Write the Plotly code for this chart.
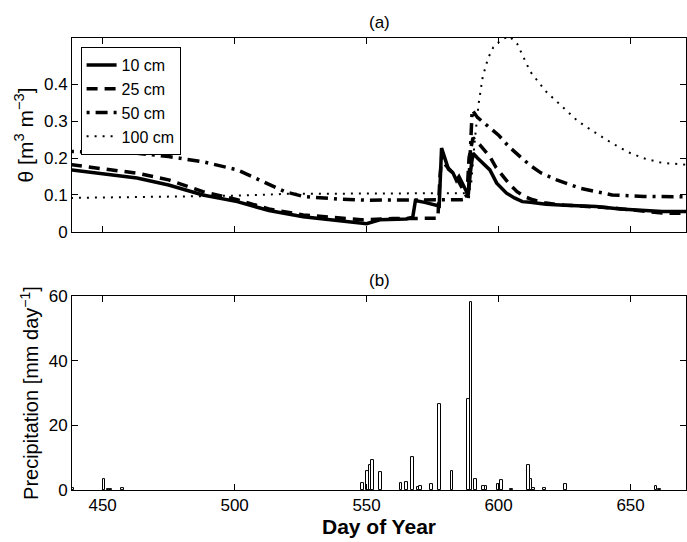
import plotly.graph_objects as go
from plotly.subplots import make_subplots

# soil moisture, day of year vs theta [m3 m-3]
days_10 = [438, 450, 463, 475, 488, 501, 513, 526, 539, 550, 555, 565, 567.5, 568.5, 572, 576.5, 577.5,
           578.4, 579.5, 581, 582.7, 584, 585, 586.5, 588.5, 589.3, 590.3, 592, 594, 596.7, 599.3, 603,
           606, 609, 612, 618, 625, 637, 646, 655, 662, 671]
theta_10 = [0.168, 0.158, 0.146, 0.127, 0.100, 0.082, 0.058, 0.041, 0.031, 0.022, 0.033, 0.035, 0.040,
            0.085, 0.080, 0.070, 0.070, 0.227, 0.200, 0.170, 0.160, 0.140, 0.150, 0.130, 0.100, 0.160,
            0.213, 0.200, 0.185, 0.168, 0.132, 0.105, 0.092, 0.082, 0.080, 0.075, 0.072, 0.069, 0.062,
            0.058, 0.055, 0.055]

days_25 = [438, 463, 475, 488, 501, 513, 526, 539, 548, 560, 570, 577, 577.8, 578.6, 580, 582.7, 584.6,
           586, 588, 588.8, 590.3, 593, 596.7, 599, 601.7, 604, 607, 610, 613, 618, 624, 643, 662, 671]
theta_25 = [0.182, 0.159, 0.141, 0.109, 0.087, 0.062, 0.046, 0.037, 0.033, 0.036, 0.036, 0.037, 0.150,
            0.213, 0.180, 0.160, 0.140, 0.120, 0.095, 0.200, 0.255, 0.235, 0.204, 0.175, 0.150, 0.130,
            0.109, 0.095, 0.087, 0.078, 0.073, 0.065, 0.051, 0.050]

days_50 = [438, 463, 475, 488, 501, 513, 519, 526, 539, 550, 560, 575, 586, 588.5, 590, 592, 596, 600,
           604, 608, 612, 616, 622, 631, 643, 655, 671]
theta_50 = [0.218, 0.213, 0.204, 0.190, 0.168, 0.127, 0.109, 0.096, 0.089, 0.086, 0.086, 0.087, 0.087,
            0.090, 0.330, 0.310, 0.285, 0.262, 0.230, 0.204, 0.180, 0.160, 0.141, 0.118, 0.100, 0.096, 0.095]

days_100 = [438, 470, 500, 520, 550, 580, 588, 589.5, 591, 592.5, 594, 596, 598, 601, 604, 607, 612, 618,
            624, 630, 637, 643, 650, 656, 662, 671]
theta_100 = [0.092, 0.095, 0.098, 0.103, 0.104, 0.105, 0.105, 0.120, 0.250, 0.350, 0.420, 0.470, 0.500,
             0.520, 0.530, 0.510, 0.434, 0.380, 0.340, 0.300, 0.267, 0.240, 0.213, 0.197, 0.187, 0.182]

# precipitation [mm/day]
precip_days = [438.5, 450.5, 452, 453, 457.5, 548.5, 550.3, 551.3, 552.3, 555.3, 563, 565, 567.5, 569.5,
               570.5, 574.5, 577.5, 582.3, 588.5, 589.6, 591.3, 594.3, 595.3, 599.9, 601, 605, 611.3,
               612.3, 613.3, 617.3, 625.3, 659.7, 661]
precip = [0.5, 3.3, 0.3, 0.3, 0.5, 2, 6, 7.8, 9.3, 5.5, 2, 2.6, 10.3, 1, 1.2, 1.8, 26.5, 5.7, 28,
          58.2, 3.4, 1.1, 1.1, 1.8, 3.2, 0.2, 7.7, 3.4, 0.5, 0.5, 1.9, 1.3, 0.3]

depths = ['10 cm', '25 cm', '50 cm', '100 cm']
styles = [('solid', 3.5), ('11px,7px', 3.5), ('3px,6px,12px,6px', 3.5), ('2px,6px', 2)]

fig = make_subplots(rows=2, cols=1, vertical_spacing=0.142)

for name, xs, ys, (dash, w) in zip(depths, [days_10, days_25, days_50, days_100],
                                   [theta_10, theta_25, theta_50, theta_100], styles):
    fig.add_trace(go.Scatter(x=xs, y=ys, mode='lines', name=name,
                             line=dict(color='black', width=w, dash=dash)), row=1, col=1)

fig.add_trace(go.Bar(x=precip_days, y=precip, width=1, showlegend=False,
                     marker=dict(color='white', line=dict(color='black', width=1))), row=2, col=1)

axis_style = dict(showline=True, linecolor='black', linewidth=1, mirror='ticks', ticks='inside',
                  ticklen=6, tickcolor='black', showgrid=False, zeroline=False,
                  tickfont=dict(size=17, color='black'))

fig.update_xaxes(range=[438.4, 671], tickvals=[450, 500, 550, 600, 650], **axis_style)
fig.update_xaxes(showticklabels=False, row=1, col=1)
fig.update_xaxes(title_text='<b>Day of Year</b>', title_font=dict(size=21), title_standoff=2, row=2, col=1)

fig.update_yaxes(range=[0, 0.525], tickvals=[0, 0.1, 0.2, 0.3, 0.4], **axis_style, row=1, col=1)
fig.update_yaxes(title_text='θ [m<sup>3</sup> m<sup>−3</sup>]', title_font=dict(size=21),
                 title_standoff=4, row=1, col=1)
fig.update_yaxes(range=[0, 60], tickvals=[0, 20, 40, 60], **axis_style, row=2, col=1)
fig.update_yaxes(title_text='Precipitation [mm day<sup>−1</sup>]', title_font=dict(size=20),
                 title_standoff=4, row=2, col=1)

fig.add_annotation(text='(a)', xref='x domain', yref='y domain', x=0.5, y=1, yanchor='bottom',
                   yshift=4, showarrow=False, font=dict(size=17, color='black'))
fig.add_annotation(text='(b)', xref='x2 domain', yref='y2 domain', x=0.5, y=1, yanchor='bottom',
                   yshift=4, showarrow=False, font=dict(size=17, color='black'))

fig.update_layout(
    template='simple_white',
    width=687, height=542,
    margin=dict(l=72, r=1, t=38, b=52),
    font=dict(family='Liberation Sans, Arial, sans-serif', color='black'),
    plot_bgcolor='white', paper_bgcolor='white',
    bargap=0,
    legend=dict(x=0.014, y=0.98, xanchor='left', yanchor='top', bgcolor='white',
                bordercolor='black', borderwidth=1, font=dict(size=16),
                tracegroupgap=0, itemwidth=30),
)

# page body has a default 8px margin; drop it so the figure sits at the window corner
fig.write_html("out.html", config={'displayModeBar': False},
               post_script="document.body.style.margin='0';")
